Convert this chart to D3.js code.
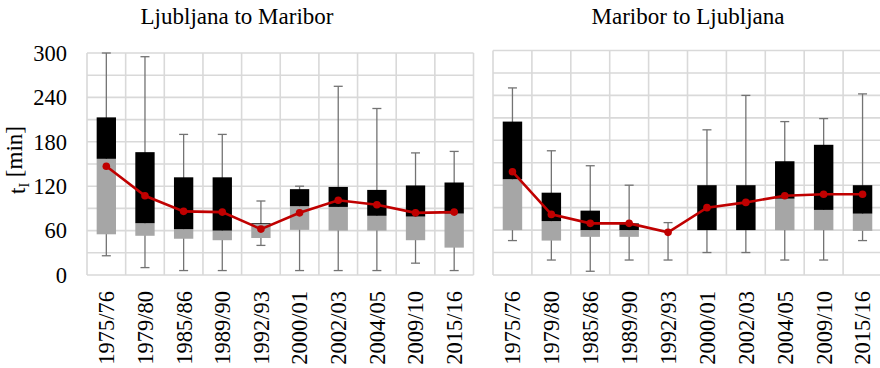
<!DOCTYPE html>
<html>
<head>
<meta charset="utf-8">
<script src="https://cdn.jsdelivr.net/npm/d3@7"></script>
<style>
  body { margin: 0; background: #fff; }
</style>
</head>
<body>
<div class="chart"></div>
<script>

var periods = ["1975/76", "1979/80", "1985/86", "1989/90", "1992/93", "2000/01", "2002/03", "2004/05", "2009/10", "2015/16"];
var yTicks = [0, 60, 120, 180, 240, 300];

// Ljubljana -> Maribor
var ljMin  = [26, 10, 6, 6, 40, 6, 6, 6, 16, 6];
var ljQ1   = [55, 53, 49, 47, 50, 61, 60, 60, 47, 37];
var ljMed  = [157, 70, 62, 60, 69, 93, 92, 80, 79, 83];
var ljQ3   = [213, 166, 132, 132, 70, 116, 119, 115, 121, 125];
var ljMax  = [300, 295, 190, 190, 100, 120, 255, 225, 165, 167];
var ljMean = [147, 107, 86, 85, 62, 84, 101, 95, 84, 85];

// Maribor -> Ljubljana
var mbMin  = [46, 20, 5, 20, 20, 30, 30, 20, 20, 46];
var mbQ1   = [60, 46, 51, 51, 58, 60, 60, 60, 60, 59];
var mbMed  = [128, 72, 60, 60, 58, 60, 60, 102, 87, 82];
var mbQ3   = [205, 110, 86, 69, 58, 120, 120, 152, 174, 120];
var mbMax  = [250, 166, 146, 120, 70, 194, 240, 205, 209, 242];
var mbMean = [138, 81, 69, 69, 57, 90, 97, 106, 108, 108];

var width = 880, height = 368;
var gridColor = "#d9d9d9";
var serif = "'Liberation Serif', 'DejaVu Serif', 'Times New Roman', Times, serif";

var svg = d3.select(".chart")
  .append("svg")
    .attr("width", width)
    .attr("height", height)
    .attr("font-family", serif);

function drawPanel(opts) {

  var rows = periods.map(function(p, i) {
    return { period: p, min: opts.min[i], q1: opts.q1[i], med: opts.med[i], q3: opts.q3[i], max: opts.max[i], mean: opts.mean[i] };
  });

  var x = d3.scaleBand()
    .domain(periods)
    .range([opts.x0, opts.x1])
    .paddingInner(0).paddingOuter(0);

  var y = d3.scaleLinear()
    .domain([0, 300])
    .range([opts.yBottom, opts.yTop]);

  var g = svg.append("g");

  // horizontal grid every 30
  g.selectAll(".hgrid")
    .data(d3.range(0, 301, 30))
    .enter().append("line")
      .attr("x1", opts.x0).attr("x2", opts.x1)
      .attr("y1", function(d) { return y(d); })
      .attr("y2", function(d) { return y(d); })
      .style("stroke", gridColor)
      .style("stroke-width", 1.6);

  // vertical grid at category edges
  var edges = periods.map(function(p) { return x(p); }).concat([opts.x1]);
  g.selectAll(".vgrid")
    .data(edges)
    .enter().append("line")
      .attr("x1", function(d) { return d; })
      .attr("x2", function(d) { return d; })
      .attr("y1", y(0)).attr("y2", y(300))
      .style("stroke", gridColor)
      .style("stroke-width", 1.6);

  var bw = x.bandwidth() * 0.5,
      capW = 9;

  var box = g.selectAll(".box")
    .data(rows)
    .enter().append("g")
      .attr("transform", function(d) { return "translate(" + (x(d.period) + x.bandwidth() / 2) + ",0)"; });

  // whiskers
  box.append("line")
    .attr("x1", 0).attr("x2", 0)
    .attr("y1", function(d) { return y(d.min); })
    .attr("y2", function(d) { return y(d.max); })
    .style("stroke", "#737373").style("stroke-width", 1.3);
  ["min", "max"].forEach(function(k) {
    box.append("line")
      .attr("x1", -capW / 2).attr("x2", capW / 2)
      .attr("y1", function(d) { return y(d[k]); })
      .attr("y2", function(d) { return y(d[k]); })
      .style("stroke", "#737373").style("stroke-width", 1.3);
  });

  // lower part of box (gray) and upper part (black)
  box.append("rect")
    .attr("x", -bw / 2).attr("width", bw)
    .attr("y", function(d) { return y(d.med); })
    .attr("height", function(d) { return y(d.q1) - y(d.med); })
    .style("fill", "#a6a6a6");
  box.append("rect")
    .attr("x", -bw / 2).attr("width", bw)
    .attr("y", function(d) { return y(d.q3); })
    .attr("height", function(d) { return y(d.med) - y(d.q3); })
    .style("fill", "#000");

  // mean line
  var line = d3.line()
    .x(function(d) { return x(d.period) + x.bandwidth() / 2; })
    .y(function(d) { return y(d.mean); });

  g.append("path")
    .datum(rows)
    .attr("d", line)
    .style("fill", "none")
    .style("stroke", "#c00000")
    .style("stroke-width", 2.6);

  g.selectAll(".dot")
    .data(rows)
    .enter().append("circle")
      .attr("cx", function(d) { return x(d.period) + x.bandwidth() / 2; })
      .attr("cy", function(d) { return y(d.mean); })
      .attr("r", 3.8)
      .style("fill", "#c00000");

  // x labels (rotated)
  g.selectAll(".xlab")
    .data(periods)
    .enter().append("text")
      .attr("transform", function(d) { return "translate(" + (x(d) + x.bandwidth() / 2) + "," + 291 + ") rotate(-90)"; })
      .attr("dy", "0.35em")
      .style("text-anchor", "end")
      .style("font-size", "22.5px")
      .text(function(d) { return d; });

  if (opts.yLabels) {
    g.selectAll(".ylab")
      .data(yTicks)
      .enter().append("text")
        .attr("x", 67)
        .attr("y", function(d) { return y(d); })
        .attr("dy", "0.35em")
        .style("text-anchor", "end")
        .style("font-size", "22.5px")
        .text(function(d) { return d; });
  }

  svg.append("text")
    .attr("x", opts.titleX)
    .attr("y", 24)
    .style("text-anchor", "middle")
    .style("font-size", "23px")
    .text(opts.title);
}

drawPanel({ x0: 87, x1: 473.5, yBottom: 275, yTop: 53, yLabels: true,
  min: ljMin, q1: ljQ1, med: ljMed, q3: ljQ3, max: ljMax, mean: ljMean,
  title: "Ljubljana to Maribor", titleX: 237 });

drawPanel({ x0: 493, x1: 882, yBottom: 275, yTop: 50.5, yLabels: false,
  min: mbMin, q1: mbQ1, med: mbMed, q3: mbQ3, max: mbMax, mean: mbMean,
  title: "Maribor to Ljubljana", titleX: 688 });

// y axis title
var yt = svg.append("text")
  .attr("transform", "translate(25,160) rotate(-90)")
  .style("text-anchor", "middle")
  .style("font-size", "23px");
yt.append("tspan").text("t");
yt.append("tspan").attr("dy", "0.3em").style("font-size", "14px").text("I");
yt.append("tspan").attr("dy", "-0.3em").text(" [min]");

</script>
</body>
</html>
